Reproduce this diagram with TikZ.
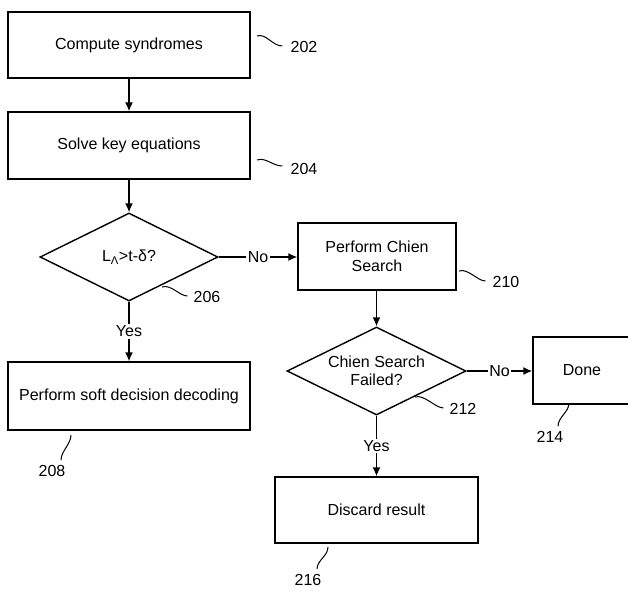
\documentclass[tikz,border=0pt]{standalone}
\usepackage{fontspec}
\setmainfont{Liberation Sans}
\usetikzlibrary{shapes.geometric,arrows.meta}
\begin{document}
\begin{tikzpicture}[x=1pt,y=-1pt,
 every node/.style={font=\fontsize{16}{18.5}\selectfont},
 box/.style={draw,line width=1.4pt,inner sep=0pt,align=center},
 dec/.style={draw,diamond,aspect=2.03,line width=1.4pt,inner sep=0pt,align=center},
 conn/.style={line width=1.4pt,-{Latex[length=9pt,width=8pt]}},
 lead/.style={line width=1pt},
 lbl/.style={fill=white,inner sep=1.5pt},
 num/.style={inner sep=0pt}
]
\useasboundingbox (0,0) rectangle (628,590);
\node[box,minimum width=242pt,minimum height=66pt] (b202) at (129,45) {Compute syndromes};
\node[box,minimum width=242pt,minimum height=67pt] (b204) at (129,145.5) {Solve key equations};
\node[dec,minimum width=178pt,minimum height=88pt] (d206) at (129,257) {L\textsubscript{Λ}>t-δ?};
\node[box,minimum width=158pt,minimum height=67pt] (b210) at (377,256.5) {Perform Chien\\Search};
\node[box,minimum width=242pt,minimum height=68pt] (b208) at (129,396) {Perform soft decision decoding};
\node[dec,minimum width=179pt,minimum height=88pt] (d212) at (376.5,371) {Chien Search\\Failed?};
\node[box,minimum width=98pt,minimum height=67pt] (b214) at (582,370.5) {Done};
\node[box,minimum width=203pt,minimum height=66pt] (b216) at (376.5,510) {Discard result};

\draw[conn] (b202) -- (b204);
\draw[conn] (b204) -- (d206);
\draw[conn] (d206.east) -- (d206.east -| b210.west) node[lbl,midway] {No};
\draw[conn] (d206.south) -- (b208.north) node[lbl,midway] {Yes};
\draw[conn] (b210.south -| d212.north) -- (d212.north);
\draw[conn] (d212.east) -- (d212.east -| b214.west) node[lbl,midway] {No};
\draw[conn] (d212.south) -- (b216.north) node[lbl,midway] {Yes};

% reference numerals
\node[num] (n202) at (304,47) {202};
\node[num] (n204) at (304,169) {204};
\node[num] (n206) at (207,297) {206};
\node[num] (n210) at (506,282) {210};
\node[num] (n212) at (463,409) {212};
\node[num] (n214) at (550,437) {214};
\node[num] (n208) at (52,471) {208};
\node[num] (n216) at (308,580) {216};

\coordinate (s202) at (257,36);
\coordinate (s204) at (257,160);
\coordinate (s206) at (162,287);
\coordinate (s210) at (459,271);
\coordinate (s212) at (415,397);
\coordinate (s214) at (569,403);
\coordinate (s208) at (71,435);
\coordinate (s216) at (328,547);

\draw[lead] (s202) .. controls +(9,-3) and +(-10,0) .. ([xshift=-8pt,yshift=1pt]n202.west);
\draw[lead] (s204) .. controls +(9,-3) and +(-10,0) .. ([xshift=-8pt,yshift=3pt]n204.west);
\draw[lead] (s206) .. controls +(9,-3) and +(-8,0) .. ([xshift=-6pt,yshift=1pt]n206.west);
\draw[lead] (s210) .. controls +(9,-3) and +(-8,0) .. ([xshift=-7pt,yshift=1pt]n210.west);
\draw[lead] (s212) .. controls +(9,-3) and +(-8,0) .. ([xshift=-6pt,yshift=1pt]n212.west);
\draw[lead] (s214) .. controls +(0,9) and +(0,-9) .. ([xshift=8pt,yshift=5pt]n214.north);
\draw[lead] (s208) .. controls +(0,9) and +(0,-9) .. ([xshift=9pt,yshift=5pt]n208.north);
\draw[lead] (s216) .. controls +(0,9) and +(0,-9) .. ([xshift=9pt,yshift=5pt]n216.north);
\end{tikzpicture}
\end{document}
